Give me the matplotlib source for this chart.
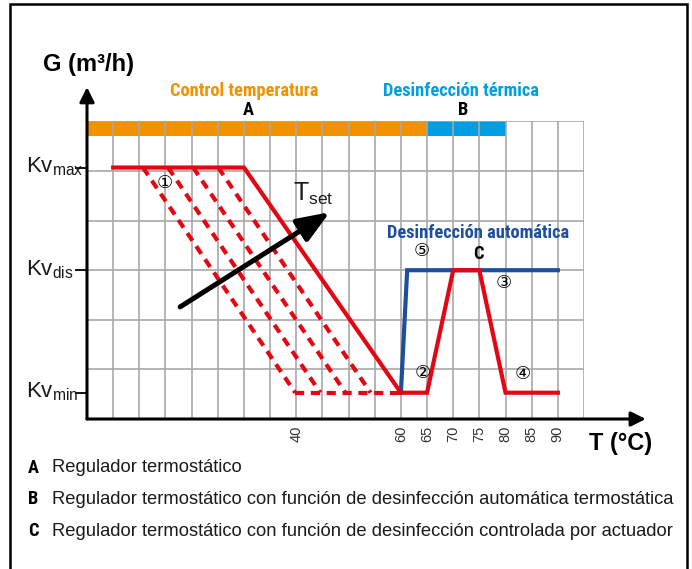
import matplotlib
matplotlib.use("Agg")
import matplotlib.pyplot as plt
from matplotlib.patches import Rectangle
from matplotlib import font_manager

# --- data ---
KV_MAX = 5.07
KV_DIS = 3.0
KV_MIN = 0.53

# thermostatic regulator (solid red)
solid_t = [5, 30, 60, 65, 70, 75, 80, 90]
solid_g = [KV_MAX, KV_MAX, KV_MIN, KV_MIN, KV_DIS, KV_DIS, KV_MIN, KV_MIN]

# dashed set-point variants
dash_start = [10.7, 15.5, 20.3, 25.1]
dash_end = [39.8, 44.6, 49.4, 54.2]

# automatic disinfection (blue)
blue_t = [60, 61.2, 90]
blue_g = [KV_MIN, KV_DIS, KV_DIS]

# zones on top bar
zone_a = (0, 65)
zone_b = (65, 80)

x_ticks = [40, 60, 65, 70, 75, 80, 85, 90]
kv_levels = [KV_MAX, KV_DIS, KV_MIN]
kv_names = ["max", "dis", "min"]

legend_keys = ["A", "B", "C"]
legend_texts = [
    "Regulador termostático",
    "Regulador termostático con función de desinfección automática termostática",
    "Regulador termostático con función de desinfección controlada por actuador",
]

RED = "#e30613"
DBLUE = "#1d4f9c"
CYAN = "#009fe3"
ORANGE = "#f39200"
GRID = "#a8a8a8"

# pick a condensed bold face if one is installed
names = {f.name for f in font_manager.fontManager.ttflist}
narrow = [n for n in ["Liberation Sans Narrow", "DejaVu Sans Condensed", "Roboto Condensed"] if n in names]
if narrow:
    NARROW = dict(family=[narrow[0], "DejaVu Sans"], stretch="condensed")
    NSIZE = 13.2
else:
    NARROW = dict(family=["DejaVu Sans"])
    NSIZE = 10

plt.rcParams["mathtext.default"] = "regular"
THIN = dict(family=["Liberation Sans", "DejaVu Sans"], color="#1a1a1a")

W, H = 692, 569
fig = plt.figure(figsize=(W / 100, H / 100), dpi=100)

# axes placed so that 0..95 degC spans px 87..584 and 0..6 spans px 419..121
ax = fig.add_axes([87 / W, 1 - 419 / H, 497 / W, 297.6 / H])
ax.set_xlim(0, 95)
ax.set_ylim(0, 6)
for s in ax.spines.values():
    s.set_visible(False)

# grid
for x in range(5, 96, 5):
    ax.axvline(x, color=GRID, lw=1.2, zorder=1)
for y in range(1, 7):
    ax.axhline(y, color=GRID, lw=1.2, zorder=1)

# top zone bar
ax.barh(5.85, zone_a[1] - zone_a[0], left=zone_a[0], height=0.3, color=ORANGE, zorder=0.5)
ax.barh(5.85, zone_b[1] - zone_b[0], left=zone_b[0], height=0.3, color=CYAN, zorder=0.5)

# dashed lines
for x0, x1 in zip(dash_start, dash_end):
    ax.plot([x0, x1], [KV_MAX, KV_MIN], color=RED, lw=3, dashes=(2.2, 1.6), zorder=3)
ax.plot([dash_end[0], 60], [KV_MIN, KV_MIN], color=RED, lw=3, dashes=(2.2, 1.6), zorder=3)

# solid red and blue
ax.plot(blue_t, blue_g, color=DBLUE, lw=3, zorder=4, solid_joinstyle="miter")
ax.plot(solid_t, solid_g, color=RED, lw=3, zorder=5, solid_joinstyle="miter")

# axis arrows
ax.annotate("", xy=(0, 6.69), xytext=(0, 0), annotation_clip=False,
            arrowprops=dict(arrowstyle="-|>,head_length=0.8,head_width=0.4", mutation_scale=11,
                            lw=2.2, color="black", shrinkA=0, shrinkB=0))
ax.annotate("", xy=(106.8, 0), xytext=(0, 0), annotation_clip=False,
            arrowprops=dict(arrowstyle="-|>,head_length=0.8,head_width=0.4", mutation_scale=11,
                            lw=2.2, color="black", shrinkA=0, shrinkB=0))

# T_set arrow
ax.annotate("", xy=(46.4, 4.17), xytext=(17.8, 2.26), zorder=6,
            arrowprops=dict(arrowstyle="-|>,head_length=1.4,head_width=0.55", mutation_scale=14,
                            lw=3.6, color="black", shrinkA=0, shrinkB=0))
ax.text(39.4, 4.40, r"T$_{set}$", fontsize=18, va="baseline", ha="left", **THIN)

# ticks
ax.set_yticks(kv_levels)
ax.set_yticklabels([])
ax.tick_params(axis="y", length=9, width=1.3, color="black")
ax.set_xticks(x_ticks)
ax.set_xticklabels([str(t) for t in x_ticks], rotation=90, fontsize=10.5,
                   fontfamily=["Liberation Sans", "DejaVu Sans"], color="#333333")
ax.tick_params(axis="x", length=0, pad=5)

for lvl, name in zip(kv_levels, kv_names):
    ax.text(-11.6, lvl - 0.1, r"Kv$_{%s}$" % name, fontsize=16, va="baseline", ha="left",
            clip_on=False, **THIN)

# axis titles
ax.text(0.2, 7.15, "G (m³/h)", fontsize=17, fontweight="bold", ha="center", va="center",
        family=["Liberation Sans", "DejaVu Sans"])
ax.text(102.0, -0.5, "T (°C)", fontsize=17, fontweight="bold", ha="center", va="center",
        family=["Liberation Sans", "DejaVu Sans"])

# zone labels
ax.text(30.0, 6.61, "Control temperatura", color=ORANGE, fontsize=NSIZE, fontweight="bold",
        ha="center", va="center", **NARROW)
ax.text(30.8, 6.23, "A", fontsize=NSIZE, fontweight="bold", ha="center", va="center", **NARROW)
ax.text(71.5, 6.61, "Desinfección térmica", color=CYAN, fontsize=NSIZE, fontweight="bold",
        ha="center", va="center", **NARROW)
ax.text(71.9, 6.23, "B", fontsize=NSIZE, fontweight="bold", ha="center", va="center", **NARROW)
ax.text(74.7, 3.75, "Desinfección automática", color=DBLUE, fontsize=NSIZE, fontweight="bold",
        ha="center", va="center", **NARROW)
ax.text(74.9, 3.33, "C", fontsize=NSIZE, fontweight="bold", ha="center", va="center", **NARROW)

# circled markers
marks = [("①", 14.9, 4.76), ("②", 64.2, 0.93), ("③", 79.7, 2.74), ("④", 83.3, 0.91), ("⑤", 64.0, 3.39)]
for m, x, y in marks:
    ax.text(x, y, m, fontsize=13, ha="center", va="center", zorder=7)

# legend rows below the chart
for i, (k, t) in enumerate(zip(legend_keys, legend_texts)):
    yy = 1 - (468 + 31.5 * i) / H
    fig.text(28 / W, yy, k, fontsize=NSIZE, fontweight="bold", va="center", **NARROW)
    fig.text(52 / W, yy, t, fontsize=13.2, va="center", **THIN)

# frame
fig.add_artist(Rectangle((10 / W, -0.05), 677 / W, 1.05 - 4 / H, transform=fig.transFigure,
                         fill=False, lw=1.8, edgecolor="black"))

fig.savefig("out.png", dpi=100)
